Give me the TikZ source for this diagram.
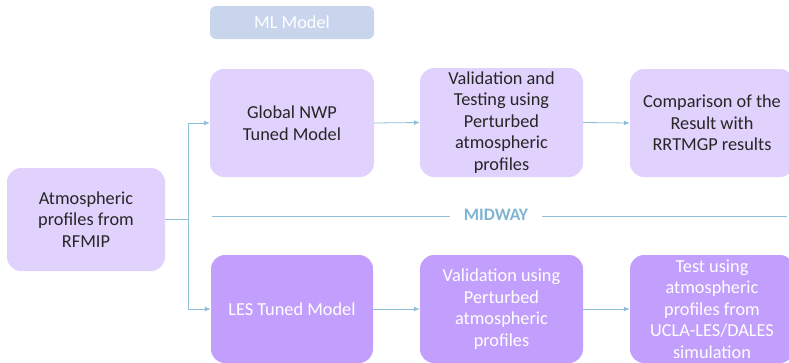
\documentclass[tikz,border=0pt]{standalone}
\usepackage{fontspec}
\setmainfont{Carlito}
\usetikzlibrary{arrows.meta}
\definecolor{lightbox}{HTML}{E1D2FD}
\definecolor{darkbox}{HTML}{C29FFC}
\definecolor{mlbox}{HTML}{C8D5ED}
\definecolor{conn}{HTML}{8FBFD8}
\definecolor{midtxt}{HTML}{7EB4D2}
\definecolor{txt}{HTML}{262626}
\tikzset{
  box/.style={rectangle, rounded corners=14pt, inner sep=2pt, align=center,
    font=\fontsize{18.3}{21.6}\selectfont},
  lightstep/.style={box, fill=lightbox, text=txt},
  darkstep/.style={box, fill=darkbox, text=white},
  conline/.style={draw=conn, line width=0.8pt},
  arr/.style={conline, -{Latex[length=6pt,width=5pt]}},
}
\begin{document}
\begin{tikzpicture}[x=1pt,y=-1pt]
\useasboundingbox (0,0) rectangle (789,362);
\clip (0,0) rectangle (789,362);
\node[box, fill=mlbox, text=white, minimum width=164pt, minimum height=33pt, rounded corners=6pt] (ml) at (292,22.5) {ML Model};
\node[lightstep, minimum width=164pt, minimum height=108pt] (glob) at (292,123) {Global NWP\\Tuned Model};
\node[lightstep, minimum width=163pt, minimum height=109pt] (valt) at (501.5,122.5) {Validation and\\Testing using\\Perturbed\\atmospheric\\profiles};
\node[lightstep, minimum width=164pt, minimum height=108pt] (comp) at (712,123) {Comparison of the\\Result with\\RRTMGP results};
\node[lightstep, minimum width=158pt, minimum height=103pt] (atm) at (86,219.5) {Atmospheric\\profiles from\\RFMIP};
\node[darkstep, minimum width=162pt, minimum height=108pt] (les) at (292,309) {LES Tuned Model};
\node[darkstep, minimum width=163pt, minimum height=108pt] (valu) at (501.5,309) {Validation using\\Perturbed\\atmospheric\\profiles};
\node[darkstep, minimum width=164pt, minimum height=108pt] (test) at (712,309) {Test using\\atmospheric\\profiles from\\UCLA-LES/DALES\\simulation};
\node[font=\bfseries\fontsize{17.5}{20}\selectfont, text=midtxt, minimum width=92pt, inner xsep=0pt] (mid) at (496,215) {MIDWAY};
\coordinate (midl) at (212,216);
\coordinate (midr) at (787,216);
\draw[conline] (midl) -- (midl -| mid.west);
\draw[conline] (midr -| mid.east) -- (midr);
\coordinate (junc) at (188,219.5);
\draw[conline] (atm.east) -- (junc);
\draw[arr] (junc) |- (glob.west);
\draw[arr] (junc) |- (les.west);
\draw[arr] (glob.east) -- (valt.west);
\draw[arr] (valt.east) -- (comp.west);
\draw[arr] (les.east) -- (valu.west);
\draw[arr] (valu.east) -- (test.west);
\end{tikzpicture}
\end{document}
